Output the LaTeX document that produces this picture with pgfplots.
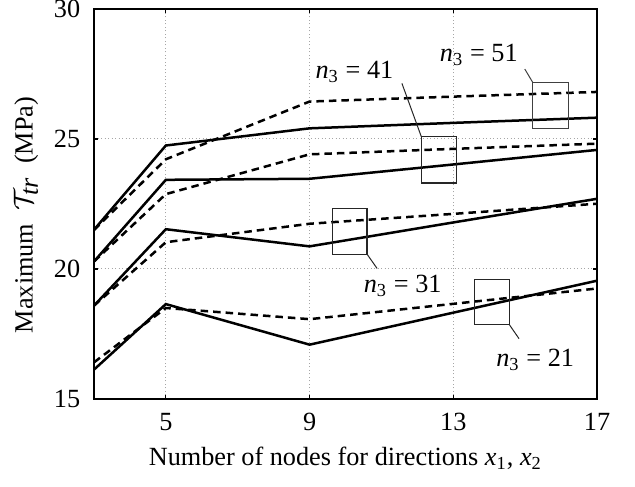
\documentclass[border=0pt]{standalone}
\usepackage{fontspec}
\setmainfont{Liberation Serif}
\usepackage{pgfplots}
\pgfplotsset{compat=1.18}
\usetikzlibrary{calc}
\newcommand{\nlab}[1]{\textit{n}\textsubscript{3} = #1}
\begin{document}
\begin{tikzpicture}[font=\fontsize{10.5}{12.6}\selectfont]
\begin{axis}[
  name=ax,
  scale only axis,
  width=201.2pt, height=156pt,
  xmin=3, xmax=17, ymin=15, ymax=30,
  xtick={5,9,13,17}, ytick={15,20,25,30},
  grid=major,
  major grid style={densely dotted, gray!70, line width=0.4pt},
  axis line style={line width=0.8pt},
  tick align=inside, major tick length=1.5pt,
  tick style={line width=0.5pt, black},
  /pgf/number format/assume math mode=true,
  xticklabel style={yshift=-2pt},
  yticklabel style={xshift=-2pt},
  xlabel={Number of nodes for directions \textit{x}\textsubscript{1}, \textit{x}\textsubscript{2}},
  ylabel={Maximum\ \ $\mathcal{T}_{\textit{tr}}$\ \ (MPa)},
  x label style={at={(axis description cs:0.5,-0.151)}, anchor=center},
  y label style={at={(axis description cs:-0.135,0.472)}, anchor=center},
  clip=true,
]
% n3 = 51
\addplot[black, line width=1pt] coordinates {(3,21.51) (5,24.75) (9,25.41) (13,25.62) (17,25.82)};
\addplot[black, line width=1pt, dash pattern=on 3pt off 2pt] coordinates {(3,21.50) (5,24.22) (9,26.44) (13,26.63) (17,26.81)};
% n3 = 41
\addplot[black, line width=1pt] coordinates {(3,20.29) (5,23.43) (9,23.47) (13,24.02) (17,24.58)};
\addplot[black, line width=1pt, dash pattern=on 3pt off 2pt] coordinates {(3,20.29) (5,22.88) (9,24.41) (13,24.62) (17,24.82)};
% n3 = 31
\addplot[black, line width=1pt] coordinates {(3,18.59) (5,21.53) (9,20.87) (13,21.79) (17,22.70)};
\addplot[black, line width=1pt, dash pattern=on 3pt off 2pt] coordinates {(3,18.59) (5,21.03) (9,21.74) (13,22.12) (17,22.51)};
% n3 = 21
\addplot[black, line width=1pt] coordinates {(3,16.13) (5,18.65) (9,17.09) (13,18.32) (17,19.55)};
\addplot[black, line width=1pt, dash pattern=on 3pt off 2pt] coordinates {(3,16.41) (5,18.50) (9,18.07) (13,18.66) (17,19.25)};
% annotations
\draw[black!75, line width=0.5pt] (axis cs:15.21,25.39) rectangle (axis cs:16.20,27.18);
\draw[black!75, line width=0.4pt] (axis cs:15.21,27.18) -- (axis cs:14.99,27.69);
\node at (axis cs:13.71,28.23) {\nlab{51}};
\draw[black!85, line width=0.5pt] (axis cs:12.11,23.31) rectangle (axis cs:13.08,25.09);
\draw[black!85, line width=0.4pt] (axis cs:12.11,25.09) -- (axis cs:11.57,27.14);
\node at (axis cs:10.25,27.59) {\nlab{41}};
\draw[black!85, line width=0.5pt] (axis cs:9.64,20.57) rectangle (axis cs:10.60,22.34);
\draw[black!85, line width=0.4pt] (axis cs:10.60,20.57) -- (axis cs:10.88,20.02);
\node at (axis cs:11.59,19.36) {\nlab{31}};
\draw[black!85, line width=0.5pt] (axis cs:13.59,17.86) rectangle (axis cs:14.56,19.61);
\draw[black!85, line width=0.4pt] (axis cs:14.56,17.86) -- (axis cs:14.83,17.32);
\node at (axis cs:15.28,16.51) {\nlab{21}};
\end{axis}
\pgfresetboundingbox
\path[use as bounding box] ($(ax.south west)+(-37.6pt,-35.2pt)$) rectangle ($(ax.north east)+(15.2pt,3.6pt)$);
\end{tikzpicture}
\end{document}
